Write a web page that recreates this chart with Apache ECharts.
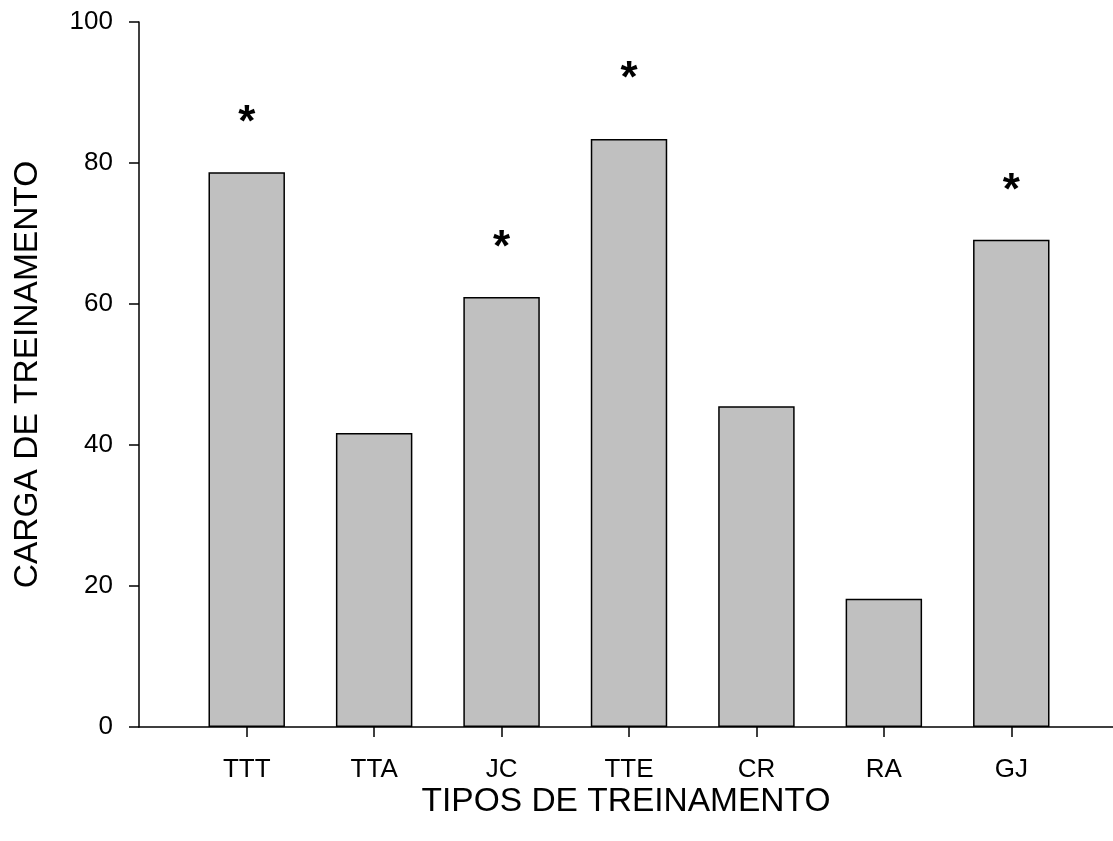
<!DOCTYPE html>
<html>
<head>
<meta charset="utf-8">
<script src="https://cdn.jsdelivr.net/npm/echarts@6/dist/echarts.min.js"></script>
<style>
  html, body { margin: 0; padding: 0; background: #fff; }
  #chart { width: 1113px; height: 841px; }
</style>
</head>
<body>
<div id="chart"></div>
<script>
const categories = ['TTT', 'TTA', 'JC', 'TTE', 'CR', 'RA', 'GJ'];
const cargaValues = [78.7, 41.7, 61.0, 83.4, 45.5, 18.2, 69.1];
// height (in axis units) of the significance asterisks, null where none
const starHeights = [86.8, null, 69.1, 93.0, null, null, 77.2];
const yTicks = { min: 0, max: 100, interval: 20 };

const font = '"Liberation Sans", Arial, sans-serif';
const chart = echarts.init(document.getElementById('chart'), null, { renderer: 'canvas' });

const option = {
  backgroundColor: '#ffffff',
  animation: false,
  grid: [
    { left: 139, right: 0, top: 22, bottom: 114 },
    { left: 183, right: 38, top: 22, bottom: 114 }
  ],
  xAxis: [
    {
      // axis line + title spanning the full plot width
      type: 'value',
      gridIndex: 0,
      min: 0,
      max: 1,
      name: 'TIPOS DE TREINAMENTO',
      nameLocation: 'middle',
      nameGap: 58,
      nameTextStyle: { color: '#000', fontSize: 33.5, fontFamily: font },
      axisLine: { show: true, lineStyle: { color: '#000', width: 1.5 } },
      axisTick: { show: false },
      axisLabel: { show: false },
      splitLine: { show: false }
    },
    {
      type: 'category',
      gridIndex: 1,
      data: categories,
      axisLine: { show: false },
      axisTick: { show: true, alignWithLabel: true, length: 10, lineStyle: { color: '#000', width: 1.5 } },
      axisLabel: { color: '#000', fontSize: 26, fontFamily: font, margin: 30 },
      splitLine: { show: false }
    }
  ],
  yAxis: [
    {
      type: 'value',
      gridIndex: 0,
      min: yTicks.min,
      max: yTicks.max,
      interval: yTicks.interval,
      name: 'CARGA DE TREINAMENTO',
      nameLocation: 'middle',
      nameGap: 94,
      nameTextStyle: { color: '#000', fontSize: 33.5, fontFamily: font },
      axisLine: { show: true, lineStyle: { color: '#000', width: 1.5 } },
      axisTick: { show: true, length: 10, lineStyle: { color: '#000', width: 1.5 } },
      axisLabel: { color: '#000', fontSize: 26, fontFamily: font, margin: 26 },
      splitLine: { show: false }
    },
    {
      type: 'value',
      gridIndex: 1,
      min: yTicks.min,
      max: yTicks.max,
      show: false
    }
  ],
  series: [
    {
      type: 'bar',
      xAxisIndex: 1,
      yAxisIndex: 1,
      barWidth: '60%',
      data: cargaValues,
      itemStyle: { color: '#c0c0c0', borderColor: '#000', borderWidth: 1.5 }
    },
    {
      type: 'scatter',
      xAxisIndex: 1,
      yAxisIndex: 1,
      symbolSize: 0,
      silent: true,
      data: starHeights,
      itemStyle: { opacity: 1, color: '#000' },
      label: {
        show: true,
        position: 'inside',
        offset: [0, 9],
        color: '#000',
        fontSize: 44,
        fontWeight: 'bold',
        fontFamily: font,
        formatter: '*'
      }
    }
  ]
};

chart.setOption(option);
</script>
</body>
</html>
